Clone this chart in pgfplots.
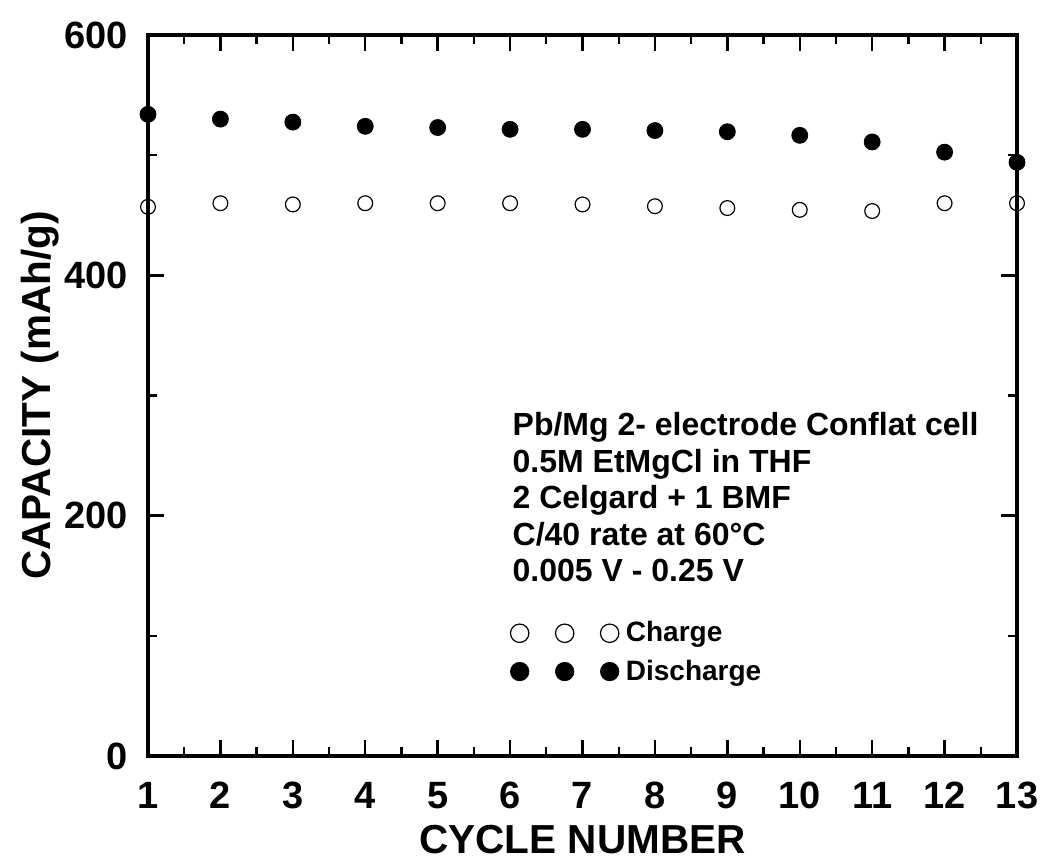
\documentclass[border=0pt]{standalone}
\usepackage{fontspec}
\setmainfont{Liberation Sans}
\usepackage{pgfplots}
\pgfplotsset{compat=1.18}
\begin{document}
\begin{tikzpicture}
\begin{axis}[
  scale only axis,
  width=434.5pt, height=360.5pt,
  xmin=1, xmax=13, ymin=0, ymax=600,
  xtick={1,2,...,13}, ytick={0,200,400,600},
  minor x tick num=1, minor y tick num=1,
  tick align=inside,
  major tick length=8pt, minor tick length=4.5pt,
  every tick/.style={line width=1.2pt, black},
  axis line style={line width=2pt},
  /pgf/number format/assume math mode=true,
  ticklabel style={font=\fontsize{19}{22}\selectfont\bfseries},
  xticklabel style={yshift=-9.5pt},
  yticklabel style={xshift=-6.5pt},
  xlabel={CYCLE NUMBER},
  ylabel={CAPACITY (mAh/g)},
  label style={font=\fontsize{20.25}{23}\selectfont\bfseries},
  xlabel style={at={(axis description cs:0.5,0)}, anchor=north, yshift=-31pt},
  ylabel style={at={(axis description cs:-0.1243,0.5)}, anchor=center, rotate=0},
  clip=false,
  legend style={draw=none, fill=none, at={(axis cs:6.0,115.5)}, anchor=north west,
    font=\fontsize{14}{16}\selectfont\bfseries, row sep=3.5pt, inner sep=0pt,
    nodes={inner xsep=3.5pt}},
  legend cell align=left,
  legend image code/.code={\draw[#1, only marks, mark size=4.6pt] plot coordinates {(0pt,0pt)(22.5pt,0pt)(45pt,0pt)};},
]
\addplot[only marks, mark=o, mark size=3.7pt, line width=0.6pt, black] coordinates {
(1,457) (2,460) (3,459) (4,460) (5,460) (6,460) (7,459) (8,457.5) (9,456) (10,454.5) (11,453.5) (12,460) (13,460)};
\addlegendentry{Charge}
\addplot[only marks, mark=*, mark size=4pt, black] coordinates {
(1,534) (2,530) (3,527.5) (4,524) (5,523) (6,521.5) (7,521.5) (8,520.5) (9,519.5) (10,516.5) (11,511) (12,502.5) (13,494)};
\addlegendentry{Discharge}
\node[anchor=north west, align=left, inner sep=0pt, font=\fontsize{16}{18.2}\selectfont\bfseries] at (axis cs:6.03,286)
{Pb/Mg 2- electrode Conflat cell\\0.5M EtMgCl in THF\\2 Celgard + 1 BMF\\C/40 rate at 60°C\\0.005 V - 0.25 V};
\end{axis}
\pgfresetboundingbox
\path (current axis.south west) ++(-74pt,-55.5pt) coordinate (bl);
\path (current axis.north east) ++(15pt,17.5pt) coordinate (tr);
\useasboundingbox (bl) rectangle (tr);
\end{tikzpicture}
\end{document}
